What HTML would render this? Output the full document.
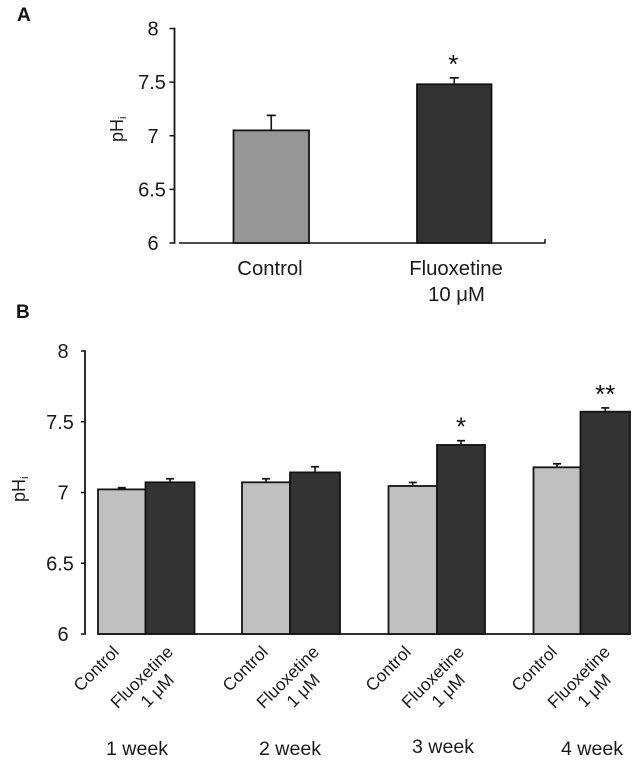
<!DOCTYPE html>
<html lang="en">
<head>
<meta charset="utf-8">
<title>Intracellular pH bar charts</title>
<style>
html,body{margin:0;padding:0;background:#fff}
svg{display:block;font-family:"Liberation Sans",Arial,sans-serif;fill:#1a1a1a}
</style>
</head>
<body>
<svg id="fig" xmlns="http://www.w3.org/2000/svg" width="638" height="761" viewBox="0 0 638 761">
<text x="17" y="21" font-size="19" font-weight="bold" fill="#111">A</text>
<text x="16" y="318" font-size="19" font-weight="bold" fill="#111">B</text>
</svg>
<script>
const ticksA = [6, 6.5, 7, 7.5, 8];
const categoriesA = ["Control", "Fluoxetine"];
const valuesA = [7.05, 7.48];
const errorsA = [0.14, 0.06];
const starsA = ["", "*"];

const ticksB = [6, 6.5, 7, 7.5, 8];
const weeks = ["1 week", "2 week", "3 week", "4 week"];
const controlB = [7.022, 7.072, 7.046, 7.178];
const controlErrB = [0.012, 0.025, 0.025, 0.025];
const fluoxetineB = [7.072, 7.142, 7.336, 7.571];
const fluoxetineErrB = [0.025, 0.04, 0.03, 0.027];
const starsB = ["", "", "*", "**"];

const svg = document.getElementById('fig');
const NS = 'http://www.w3.org/2000/svg';
const INK = '#141414';

function make(tag, attrs, text) {
  const el = document.createElementNS(NS, tag);
  for (const k in attrs) el.setAttribute(k, attrs[k]);
  if (text !== undefined) el.textContent = text;
  svg.appendChild(el);
  return el;
}
function line(x1, y1, x2, y2, w) {
  return make('line', {x1: x1, y1: y1, x2: x2, y2: y2, stroke: INK, 'stroke-width': w});
}
function scaleA(v) { return 243 - (v - 6) * 107.25; }
function scaleB(v) { return 634 - (v - 6) * 141.5; }

function drawYAxis(ticks, scale, axisX, tickLen, wholeCentre, decimalCentre, fontSize, dy) {
  const axis = line(axisX, scale(ticks[0]) + 0.75, axisX, scale(ticks[ticks.length - 1]) - 0.75, 1.8);
  
  
  ticks.forEach(function (t) {
    const tick = line(axisX - tickLen, scale(t), axisX, scale(t), 1.5);
    
    
    const cx = Number.isInteger(t) ? wholeCentre : decimalCentre;
    const label = make('text', {x: cx, y: scale(t) + dy, 'font-size': fontSize, 'text-anchor': 'middle'}, String(t));
    
    
  });
}
function drawYTitle(x, y, size) {
  const title = make('text', {transform: 'translate(' + x + ',' + y + ') rotate(-90)', 'font-size': size});
  
  
  const a = document.createElementNS(NS, 'tspan');
  a.textContent = 'pH';
  title.appendChild(a);
  const b = document.createElementNS(NS, 'tspan');
  b.setAttribute('dy', '3');
  b.setAttribute('font-size', size * 0.62);
  b.textContent = 'i';
  title.appendChild(b);
}
function drawBar(x0, x1, value, err, scale, base, fill, capHalf, name) {
  const cx = (x0 + x1) / 2;
  const top = scale(value);
  const errTop = scale(value + err);
  const stem = line(cx, top, cx, errTop, 1.6);
  
  
  const cap = line(cx - capHalf, errTop, cx + capHalf, errTop, 1.7);
  
  
  const bar = make('rect', {x: x0, y: top, width: x1 - x0, height: base - top, fill: fill, stroke: INK, 'stroke-width': 1.8});
  
  
  return errTop;
}

/* Panel A */
drawYAxis(ticksA, scaleA, 174.5, 5, 153, 152, 20, 7);
drawYTitle(123, 142, 18);
const baseA = make('path', {d: 'M179 243H545V239', fill: 'none', stroke: INK, 'stroke-width': 1.5});


const spanA = [[233.5, 309], [417, 491.5]];
const fillsA = ['#969696', '#333333'];
const labelCentresA = [270, 456];
categoriesA.forEach(function (c, i) {
  const errTop = drawBar(spanA[i][0], spanA[i][1], valuesA[i], errorsA[i], scaleA, 243, fillsA[i], 4.5, 'bar-a-' + c.toLowerCase());
  const cx = (spanA[i][0] + spanA[i][1]) / 2;
  const lab = make('text', {x: labelCentresA[i], y: 275, 'font-size': 20.3, 'text-anchor': 'middle'}, c);
  
  
  if (starsA[i]) {
    const star = make('text', {x: cx - 1, y: errTop - 5, 'font-size': 26, 'text-anchor': 'middle', fill: '#111'}, starsA[i]);
    
    
  }
});
const doseA = make('text', {x: 456.5, y: 301, 'font-size': 20.3, 'text-anchor': 'middle'}, '10 μM');



/* Panel B */
drawYAxis(ticksB, scaleB, 85, 4, 63, 60, 20, 7);
drawYTitle(25, 502, 18);
const baseB = line(98, 634, 630, 634, 1.8);


const edgesB = [[98, 145.5, 194.5], [242, 290, 340], [388.5, 437, 485], [533.5, 580.5, 630]];
const weekCentres = [137, 290, 443, 592];
const weekBaselines = [755, 755, 753, 755];
const controlLabelEnds = [120, 269, 412, 558];
const fluoxetineLabelEnds = [174, 320, 465, 611];
function rotatedLabel(x, y, str, name) {
  const t = make('text', {transform: 'translate(' + x + ',' + y + ') rotate(-45)', 'font-size': 17.3, 'text-anchor': 'end'}, str);
  
  
}
weeks.forEach(function (w, i) {
  const e = edgesB[i];
  const n = 'week-' + (i + 1);
  drawBar(e[0], e[1], controlB[i], controlErrB[i], scaleB, 634, '#c0c0c0', 4, 'bar-' + n + '-control');
  const errTop = drawBar(e[1], e[2], fluoxetineB[i], fluoxetineErrB[i], scaleB, 634, '#333333', 4, 'bar-' + n + '-fluoxetine');
  const cf = (e[1] + e[2]) / 2;
  rotatedLabel(controlLabelEnds[i], 653, 'Control', 'x-label-' + n + '-control');
  rotatedLabel(fluoxetineLabelEnds[i], 653, 'Fluoxetine', 'x-label-' + n + '-fluoxetine');
  rotatedLabel(fluoxetineLabelEnds[i] + 1, 681, '1 μM', 'x-label-' + n + '-dose');
  const lab = make('text', {x: weekCentres[i], y: weekBaselines[i], 'font-size': 19.6, 'text-anchor': 'middle'}, w);
  
  
  if (starsB[i]) {
    const star = make('text', {x: cf, y: errTop - 5, 'font-size': 26, 'text-anchor': 'middle', fill: '#111'}, starsB[i]);
    
    
  }
});
</script>
</body>
</html>
